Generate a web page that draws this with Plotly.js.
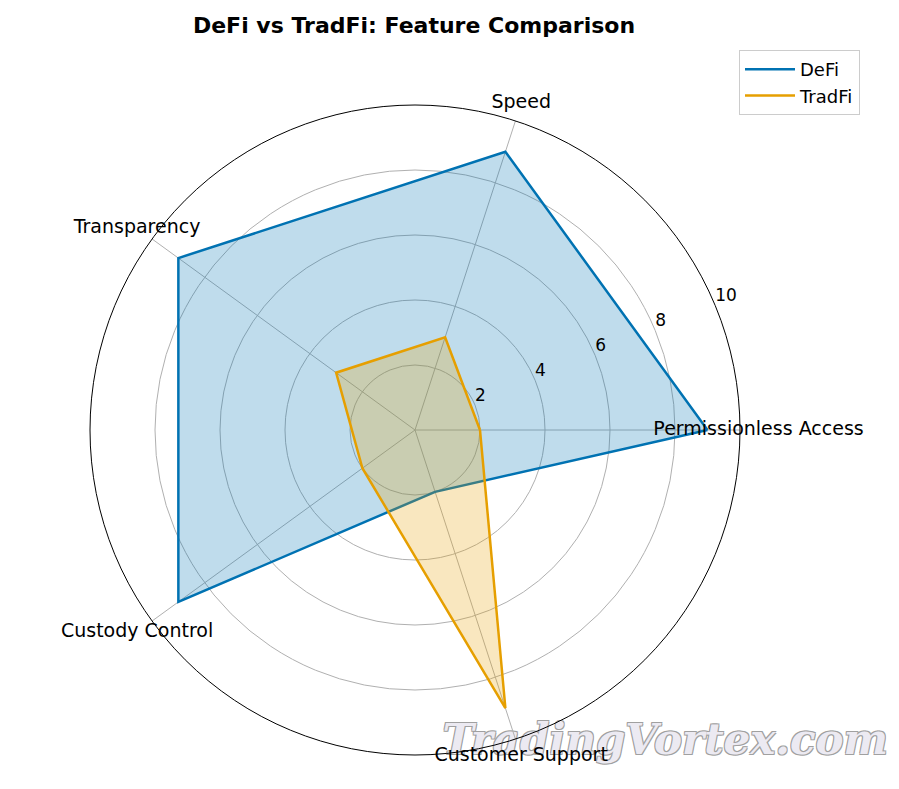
<!DOCTYPE html>
<html>
<head>
<meta charset="utf-8">
<script src="https://cdn.plot.ly/plotly-3.0.1.min.js"></script>
<style>html,body{margin:0;padding:0;background:#fff;}#chart{width:899px;height:789px;}</style>
</head>
<body>
<div id="chart"></div>
<script>
const categories = ["Permissionless Access", "Speed", "Transparency", "Custody Control", "Customer Support"];
const defiValues = [9, 9, 9, 9, 2];
const tradfiValues = [2, 3, 3, 2, 9];
const radialTicks = [2, 4, 6, 8, 10];
const radialLabelAngle = 22.5;
const labelRadius = 10.57;
const watermarkText = "TradingVortex.com";

const closeLoop = arr => arr.concat([arr[0]]);
const font = "DejaVu Sans, sans-serif";

function seriesTraces(name, values, color, fill) {
  return [
    {
      type: "scatterpolar", name: name, showlegend: false,
      r: closeLoop(values), theta: closeLoop(categories),
      mode: "lines", fill: "toself", line: {color: color, width: 0},
      fillcolor: fill, hoverinfo: "skip"
    },
    {
      type: "scatterpolar", name: name,
      r: closeLoop(values), theta: closeLoop(categories),
      mode: "lines", line: {color: color, width: 2.5}, hoverinfo: "skip"
    }
  ];
}

const traces = [
  {
    type: "scatter", x: [0.74], y: [0.058], mode: "text", text: [watermarkText],
    textposition: "middle center", showlegend: false, hoverinfo: "skip", cliponaxis: false,
    textfont: {family: "DejaVu Serif, serif", size: 42, weight: "bold", style: "italic",
      color: "#eceaf2",
      shadow: "-1px -1px 0 #a0a0a0, 1px -1px 0 #a0a0a0, -1px 1px 0 #a0a0a0, 1px 1px 0 #a0a0a0"}
  },
  ...seriesTraces("DeFi", defiValues, "#0072B2", "rgba(0,114,178,0.25)"),
  ...seriesTraces("TradFi", tradfiValues, "#E69F00", "rgba(230,159,0,0.25)"),
  {
    type: "scatterpolar", subplot: "polar3", showlegend: false,
    r: radialTicks, theta: radialTicks.map(() => radialLabelAngle),
    mode: "text", text: radialTicks.map(String), textposition: "top right",
    textfont: {family: font, size: 17, color: "#000"},
    cliponaxis: false, hoverinfo: "skip"
  },
  {
    type: "scatterpolar", subplot: "polar2", showlegend: false,
    r: categories.map(() => labelRadius), theta: categories,
    mode: "text", text: categories, textposition: "middle center",
    textfont: {family: font, size: 19, color: "#000"},
    cliponaxis: false, hoverinfo: "skip"
  }
];

const labelRange = 11;
const cx = 415, cy = 430, rad = 325;
const rad2 = rad * labelRange / 10;
const mainDomain = {x: [(cx - rad) / 899, (cx + rad) / 899], y: [(789 - cy - rad) / 789, (789 - cy + rad) / 789]};

const layout = {
  width: 899, height: 789,
  margin: {l: 0, r: 0, t: 0, b: 0},
  paper_bgcolor: "#fff", plot_bgcolor: "rgba(0,0,0,0)",
  font: {family: font, color: "#000"},
  title: {
    text: "<b>DeFi vs TradFi: Feature Comparison</b>",
    x: 414 / 899, xanchor: "center", xref: "paper",
    y: 1 - 25 / 789, yanchor: "middle", yref: "paper",
    font: {family: font, size: 22, color: "#000"}
  },
  xaxis: {domain: [0, 1], range: [0, 1], visible: false, fixedrange: true},
  yaxis: {domain: [0, 1], range: [0, 1], visible: false, fixedrange: true},
  polar: {
    domain: mainDomain,
    bgcolor: "rgba(0,0,0,0)",
    angularaxis: {
      type: "category", categoryarray: categories,
      rotation: 0, direction: "counterclockwise",
      showgrid: true, gridcolor: "#b0b0b0", gridwidth: 1,
      showline: true, linecolor: "#000", linewidth: 1,
      showticklabels: false, ticks: "", layer: "below traces"
    },
    radialaxis: {
      range: [0, 10], tickvals: radialTicks,
      showline: false, ticks: "", showticklabels: false,
      showgrid: true, gridcolor: "#b0b0b0", gridwidth: 1,
      layer: "below traces"
    }
  },
  polar3: {
    domain: mainDomain,
    bgcolor: "rgba(0,0,0,0)",
    angularaxis: {type: "linear", thetaunit: "degrees", rotation: 0, direction: "counterclockwise", visible: false},
    radialaxis: {range: [0, 10], visible: false}
  },
  polar2: {
    domain: {x: [(cx - rad2) / 899, (cx + rad2) / 899], y: [Math.max(0, (789 - cy - rad2) / 789), (789 - cy + rad2) / 789]},
    bgcolor: "rgba(0,0,0,0)",
    angularaxis: {
      type: "category", categoryarray: categories,
      rotation: 0, direction: "counterclockwise", visible: false
    },
    radialaxis: {range: [0, labelRange], visible: false}
  },
  legend: {
    x: 860 / 899, xanchor: "right", y: 1 - 50 / 789, yanchor: "top",
    bgcolor: "rgba(255,255,255,0.8)", bordercolor: "#cccccc", borderwidth: 1,
    itemwidth: 50,
    font: {family: font, size: 18, color: "#000"}
  }
};

Plotly.newPlot("chart", traces, layout, {displayModeBar: false, staticPlot: true});
</script>
</body>
</html>
